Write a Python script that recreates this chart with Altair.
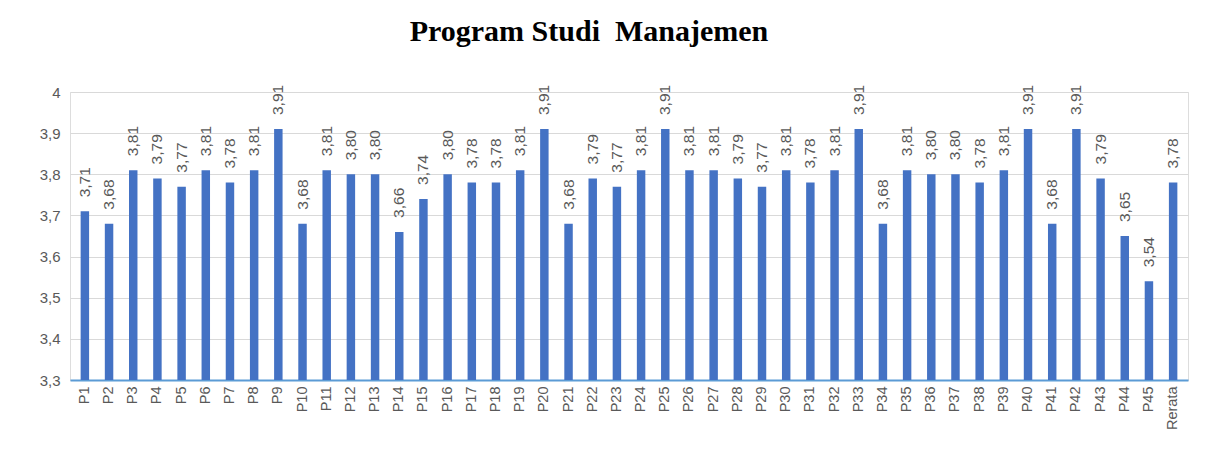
import altair as alt
import pandas as pd

categories = [f"P{i}" for i in range(1, 46)] + ["Rerata"]
values = [3.71, 3.68, 3.81, 3.79, 3.77, 3.81, 3.78, 3.81, 3.91, 3.68,
          3.81, 3.80, 3.80, 3.66, 3.74, 3.80, 3.78, 3.78, 3.81, 3.91,
          3.68, 3.79, 3.77, 3.81, 3.91, 3.81, 3.81, 3.79, 3.77, 3.81,
          3.78, 3.81, 3.91, 3.68, 3.81, 3.80, 3.80, 3.78, 3.81, 3.91,
          3.68, 3.91, 3.79, 3.65, 3.54, 3.78]
y_ticks = [3.3, 3.4, 3.5, 3.6, 3.7, 3.8, 3.9, 4.0]
y_base = 3.3

df = pd.DataFrame({"cat": categories, "val": values})

base = alt.Chart(df).encode(
    x=alt.X("cat:N", sort=categories, title=None,
            scale=alt.Scale(paddingInner=0.65, paddingOuter=0.44),
            axis=alt.Axis(labelAngle=-90, labelAlign="right", labelBaseline="middle",
                          labelFont="Liberation Sans", labelFontSize=14.5, labelColor="#595959",
                          labelPadding=6, ticks=False, domainColor="#5b9bd5", domainWidth=2,
                          grid=False)),
    y=alt.Y("val:Q", title=None,
            scale=alt.Scale(domain=[3.3, 4.0], zero=False),
            axis=alt.Axis(values=y_ticks, labelExpr="replace(format(datum.value, '.1~f'), '.', ',')",
                          labelFont="Liberation Sans", labelFontSize=15, labelColor="#595959",
                          labelPadding=10, ticks=False, domain=False,
                          gridColor="#d9d9d9", gridWidth=1)),
)

bars = base.mark_bar(color="#4472c4").encode(y2=alt.datum(y_base))

labels = base.mark_text(angle=270, align="left", baseline="middle", dx=14,
                        font="Liberation Sans", fontSize=15.5, color="#595959").encode(
    text=alt.Text("lbl:N")
).transform_calculate(lbl="replace(format(datum.val, '.2f'), '.', ',')")

chart = alt.layer(bars, labels).properties(
    width=1118, height=288,
    title=alt.TitleParams("Program Studi \u00a0Manajemen", font="Liberation Serif", fontSize=30,
                          fontWeight="bold", color="#000000", anchor="middle", dx=-40, offset=38),
    autosize=alt.AutoSizeParams(type="none"),
    padding={"left": 62, "top": 84, "right": 13, "bottom": 60},
).configure_view(stroke=None).configure(background="white")

chart.save("out.html", embed_options={"renderer": "svg", "actions": False})
